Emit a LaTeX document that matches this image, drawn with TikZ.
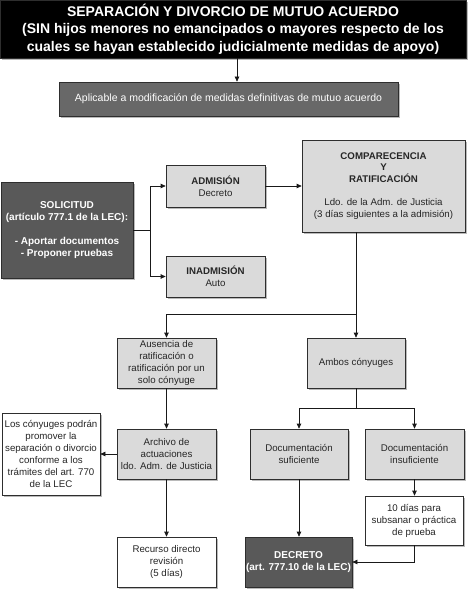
\documentclass[tikz,border=0pt]{standalone}
\usepackage{fontspec}
\setmainfont{Liberation Sans}
\usetikzlibrary{arrows.meta,shadows,calc}
\definecolor{darkbox}{HTML}{595959}
\definecolor{midbox}{HTML}{686868}
\definecolor{lightbox}{HTML}{DADADA}
\definecolor{edge}{HTML}{2E2E2E}
\tikzset{
  base/.style={draw=edge,line width=0.7pt,align=center,inner sep=1pt,
    font=\fontsize{9.7}{12}\selectfont,
    drop shadow={shadow xshift=2pt,shadow yshift=-2pt,opacity=0.45,fill=black!60}},
  lbox/.style={base,fill=lightbox,text=black!85},
  wbox/.style={base,fill=white,text=black!85},
  dbox/.style={base,fill=darkbox,text=white,font=\fontsize{10}{12}\selectfont\bfseries},
  arr/.style={draw=black!90,line width=0.7pt,-{Triangle[length=5pt,width=4.5pt]}},
  ln/.style={draw=black!90,line width=0.7pt},
}
\begin{document}
\begin{tikzpicture}[x=1pt,y=-1pt]
\useasboundingbox (0,0) rectangle (474,596);
% title
\node[base,fill=black,text=white,minimum width=466pt,minimum height=58pt,
  font=\fontsize{14}{17.5}\selectfont\bfseries] (title) at (233,29)
  {SEPARACIÓN Y DIVORCIO DE MUTUO ACUERDO\\(SIN hijos menores no emancipados o mayores respecto de los\\cuales se hayan establecido judicialmente medidas de apoyo)};
\node[base,fill=midbox,text=white,minimum width=339pt,minimum height=34pt,
  font=\fontsize{10.5}{12}\selectfont] (aplic) at (228.5,99)
  {Aplicable a modificación de medidas definitivas de mutuo acuerdo};
% solicitud
\node[dbox,minimum width=132pt,minimum height=96pt] (sol) at (67,230)
  {SOLICITUD\\(artículo 777.1 de la LEC):\\[12pt]- Aportar documentos\\- Proponer pruebas};
\node[lbox,minimum width=99pt,minimum height=42pt] (adm) at (215.5,186)
  {\textbf{ADMISIÓN}\\Decreto};
\node[lbox,minimum width=99pt,minimum height=41pt] (inadm) at (215.5,276.5)
  {\textbf{INADMISIÓN}\\Auto};
\node[lbox,minimum width=163pt,minimum height=92pt,font=\fontsize{9.7}{11.7}\selectfont] (comp) at (383.5,186)
  {\textbf{COMPARECENCIA}\\\textbf{Y}\\\textbf{RATIFICACIÓN}\\[11.7pt]Ldo. de la Adm. de Justicia\\(3 días siguientes a la admisión)};
% second level
\node[lbox,minimum width=99pt,minimum height=50pt] (aus) at (166.5,363)
  {Ausencia de\\ratificación o\\ratificación por un\\solo cónyuge};
\node[lbox,minimum width=98pt,minimum height=50pt] (ambos) at (356,363)
  {Ambos cónyuges};
\node[lbox,minimum width=99pt,minimum height=50pt] (arch) at (166.5,454)
  {Archivo de\\actuaciones\\ldo. Adm. de Justicia};
\node[wbox,minimum width=98pt,minimum height=82pt] (los) at (51,454)
  {Los cónyuges podrán\\promover la\\separación o divorcio\\conforme a los\\trámites del art. 770\\de la LEC};
\node[lbox,minimum width=98pt,minimum height=50pt] (dsuf) at (299,454)
  {Documentación\\suficiente};
\node[lbox,minimum width=99pt,minimum height=50pt] (dins) at (414.5,454)
  {Documentación\\insuficiente};
\node[wbox,minimum width=99pt,minimum height=50pt] (rec) at (166.5,562)
  {Recurso directo\\revisión\\(5 días)};
\node[dbox,minimum width=107pt,minimum height=50pt] (decr) at (298.5,562)
  {DECRETO\\(art. 777.10 de la LEC)};
\node[wbox,minimum width=98pt,minimum height=49pt] (diez) at (414,520.5)
  {10 días para\\subsanar o práctica\\de prueba};
% junctions
\coordinate (j1) at (356,314);
\coordinate (j2) at (356,408);
% connectors
\draw[arr] ($(title.south)+(4,0)$) -- ($(title.south |- aplic.north)+(4,0)$);
\draw[arr] (sol.east) -- ++(17,0) |- (adm.west);
\draw[arr] (sol.east) -- ++(17,0) |- (inadm.west);
\draw[arr] (adm.east) -- (comp.west);
\draw[arr] (comp.south -| ambos.north) -- (ambos.north);
\draw[arr] (j1) -| (aus.north);
\draw[arr] (aus.south) -- (arch.north);
\draw[arr] (arch.west) -- (los.east);
\draw[arr] (arch.south) -- (rec.north);
\draw[ln] (ambos.south) -- (j2);
\draw[arr] (j2) -| (dsuf.north);
\draw[arr] (j2) -| (dins.north);
\draw[arr] (dsuf.south) -- (dsuf.south |- decr.north);
\draw[arr] (dins.south) -- (dins.south |- diez.north);
\draw[arr] (diez.south) |- (decr.east);
\end{tikzpicture}
\end{document}
